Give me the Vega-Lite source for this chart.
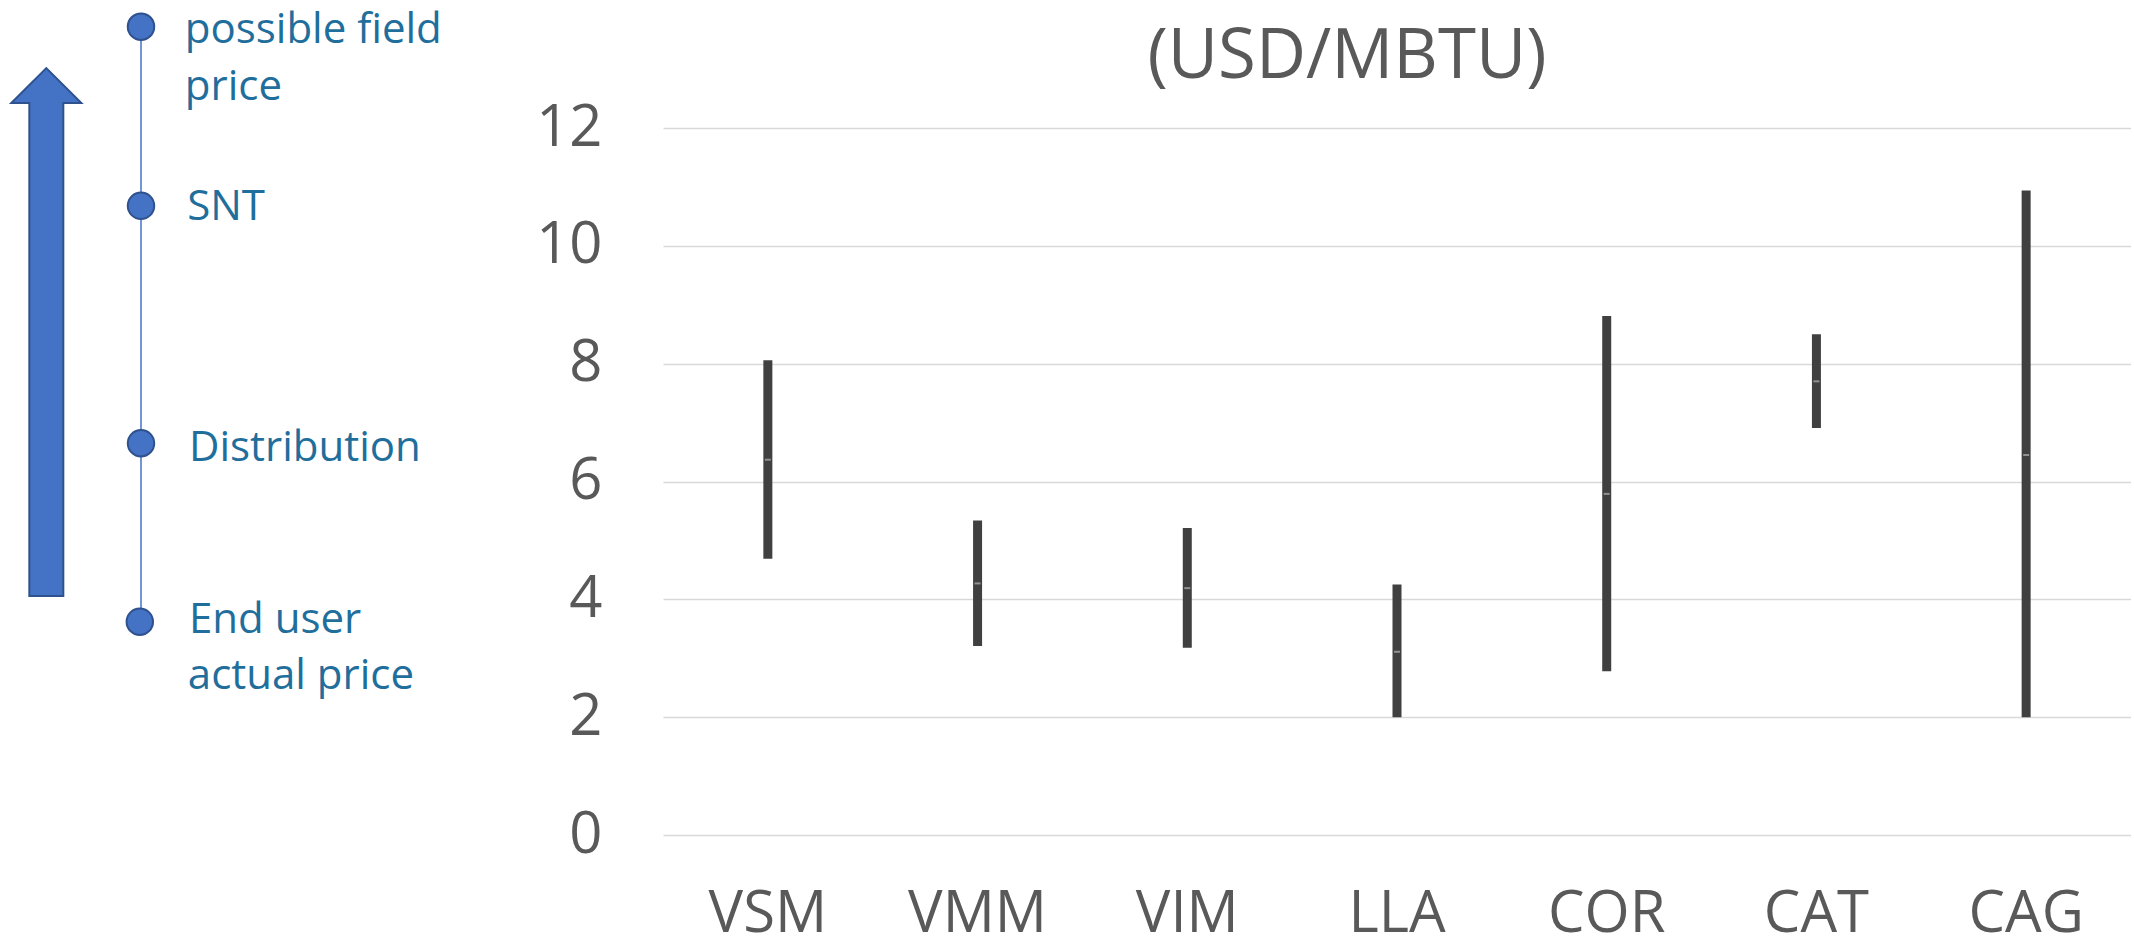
{
  "$schema": "https://vega.github.io/schema/vega-lite/v6.json",
  "background": "white",
  "padding": {"left": 0, "top": 8, "right": 0, "bottom": 0},
  "bounds": "flush",
  "spacing": 63,
  "config": {"view": {"stroke": null}, "font": "Open Sans"},
  "datasets": {
    "arrow": [{"x": 7.72, "y": 8.536}],
    "stem": [{"x": 23.5, "top": 13.72, "bottom": 3.62}],
    "stages": [
      {"stage": "possible field price", "x": 23.5, "y": 13.72},
      {"stage": "SNT", "x": 23.5, "y": 10.68},
      {"stage": "Distribution", "x": 23.5, "y": 6.65},
      {"stage": "End user actual price", "x": 23.3, "y": 3.62}
    ],
    "labels": [
      {"line": "possible field", "x": 30.8, "y": 13.67},
      {"line": "price", "x": 30.8, "y": 12.70},
      {"line": "SNT", "x": 31.2, "y": 10.66},
      {"line": "Distribution", "x": 31.5, "y": 6.57},
      {"line": "End user", "x": 31.5, "y": 3.65},
      {"line": "actual price", "x": 31.3, "y": 2.70}
    ],
    "prices": [
      {"site": "VSM", "low": 4.69, "mid": 6.37, "high": 8.06},
      {"site": "VMM", "low": 3.21, "mid": 4.27, "high": 5.34},
      {"site": "VIM", "low": 3.18, "mid": 4.19, "high": 5.21},
      {"site": "LLA", "low": 2.0, "mid": 3.11, "high": 4.25},
      {"site": "COR", "low": 2.78, "mid": 5.79, "high": 8.81},
      {"site": "CAT", "low": 6.91, "mid": 7.70, "high": 8.50},
      {"site": "CAG", "low": 2.0, "mid": 6.45, "high": 10.94}
    ]
  },
  "hconcat": [
    {
      "width": 600,
      "height": 707,
      "layer": [
        {
          "data": {"name": "arrow"},
          "mark": {"type": "point", "shape": "M0,-1 L0.1326,-0.868 L0.0644,-0.868 L0.0644,1 L-0.0644,1 L-0.0644,-0.868 L-0.1326,-0.868 Z", "size": 278784, "filled": true, "fill": "#4472C4", "fillOpacity": 1, "opacity": 1, "stroke": "#2F528F", "strokeWidth": 2},
          "encoding": {
            "x": {"field": "x", "type": "quantitative", "scale": {"domain": [0, 100], "nice": false, "zero": false}, "axis": null},
            "y": {"field": "y", "type": "quantitative", "scale": {"domain": [0, 12], "nice": false}, "axis": null}
          }
        },
        {
          "data": {"name": "stem"},
          "mark": {"type": "rule", "color": "#4472C4", "strokeWidth": 1.5},
          "encoding": {
            "x": {"field": "x", "type": "quantitative", "scale": {"domain": [0, 100], "nice": false, "zero": false}, "axis": null},
            "y": {"field": "top", "type": "quantitative", "scale": {"domain": [0, 12], "nice": false}, "axis": null},
            "y2": {"field": "bottom"}
          }
        },
        {
          "data": {"name": "stages"},
          "mark": {"type": "point", "shape": "circle", "filled": true, "fill": "#4472C4", "stroke": "#2F528F", "strokeWidth": 2, "size": 700, "opacity": 1, "fillOpacity": 1},
          "encoding": {
            "x": {"field": "x", "type": "quantitative", "scale": {"domain": [0, 100], "nice": false, "zero": false}, "axis": null},
            "y": {"field": "y", "type": "quantitative", "scale": {"domain": [0, 12], "nice": false}, "axis": null}
          }
        },
        {
          "data": {"name": "labels"},
          "mark": {"type": "text", "align": "left", "baseline": "middle", "fontSize": 42, "font": "Open Sans", "color": "#1F6E9C"},
          "encoding": {
            "x": {"field": "x", "type": "quantitative", "scale": {"domain": [0, 100], "nice": false, "zero": false}, "axis": null},
            "y": {"field": "y", "type": "quantitative", "scale": {"domain": [0, 12], "nice": false}, "axis": null},
            "text": {"field": "line", "type": "nominal"}
          }
        }
      ]
    },
    {
      "width": 1468,
      "height": 707,
      "title": {"text": "(USD/MBTU)", "fontSize": 69, "fontWeight": "normal", "font": "Open Sans", "color": "#595959", "anchor": "middle", "frame": "group", "dx": -50, "offset": 7},
      "data": {"name": "prices"},
      "encoding": {
        "x": {
          "field": "site", "type": "nominal", "sort": null,
          "scale": {"paddingInner": 0, "paddingOuter": 0},
          "axis": {"title": null, "labelAngle": 0, "labelFontSize": 58, "labelFont": "Open Sans", "labelColor": "#595959", "labelPadding": 50, "domain": false, "ticks": false, "grid": false}
        }
      },
      "layer": [
        {
          "mark": {"type": "bar", "width": 9, "color": "#404040"},
          "encoding": {
            "y": {
              "field": "low", "type": "quantitative",
              "scale": {"domain": [0, 12], "nice": false},
              "axis": {"title": null, "values": [0, 2, 4, 6, 8, 10, 12], "format": "d", "labelFontSize": 58, "labelFont": "Open Sans", "labelColor": "#595959", "labelPadding": 61, "domain": false, "ticks": false, "grid": true, "gridColor": "#d9d9d9", "gridWidth": 1.5}
            },
            "y2": {"field": "high"}
          }
        },
        {
          "mark": {"type": "tick", "orient": "horizontal", "size": 6, "thickness": 2, "color": "#b4b4b4"},
          "encoding": {
            "y": {"field": "mid", "type": "quantitative"}
          }
        }
      ]
    }
  ]
}
